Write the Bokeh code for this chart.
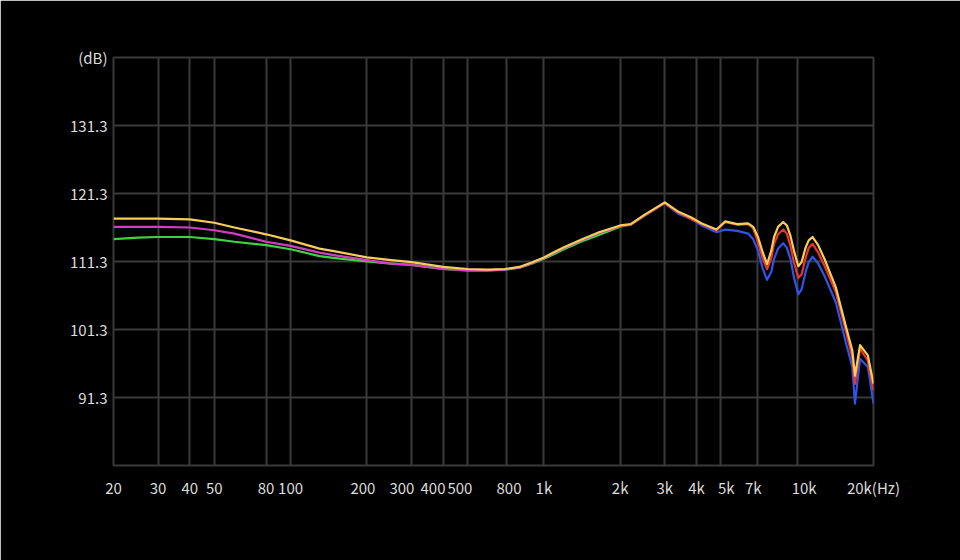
from bokeh.plotting import figure
from bokeh.models import FixedTicker, Range1d
from bokeh.embed import file_html
from bokeh.resources import INLINE

# ---- data ----
freqs = [20, 25, 30, 40, 50, 60, 80, 100, 130, 150,
         200, 250, 300, 400, 500, 600, 700, 800, 900, 1000,
         1100, 1200, 1400, 1650, 2000, 2200, 2500, 3000, 3400, 3800,
         4200, 4800, 5200, 5800, 6400, 6700, 7000, 7300, 7600, 7900,
         8100, 8400, 8800, 9100, 9400, 9700, 10100, 10400, 10800, 11100,
         11500, 12100, 12800, 14200, 15600, 16500, 16900, 17700, 19000, 20000]

yellow_db = [117.6, 117.6, 117.6, 117.5, 117.0, 116.3, 115.3, 114.4, 113.2, 112.8,
             111.9, 111.5, 111.2, 110.5, 110.2, 110.1, 110.2, 110.5, 111.2, 111.9,
             112.7, 113.4, 114.5, 115.6, 116.6, 116.8, 118.2, 120.0, 118.6, 117.8,
             116.9, 116.0, 117.2, 116.8, 116.9, 116.4, 114.9, 112.7, 110.9, 112.9,
             114.9, 116.4, 117.1, 116.6, 115.1, 112.9, 110.6, 111.2, 113.4, 114.4,
             114.9, 113.7, 111.7, 107.5, 101.6, 98.2, 94.5, 99.0, 97.5, 93.3]

pink_red_db = [116.4, 116.4, 116.4, 116.3, 115.9, 115.4, 114.2, 113.6, 112.6, 112.2,
               111.5, 111.0, 110.8, 110.2, 110.0, 110.0, 110.1, 110.4, 111.1, 111.8,
               112.6, 113.3, 114.4, 115.5, 116.5, 116.7, 118.1, 119.9, 118.5, 117.6,
               116.8, 115.9, 117.1, 116.7, 116.8, 116.2, 114.1, 111.8, 110.2, 111.8,
               113.9, 115.3, 116.0, 115.4, 113.6, 111.2, 108.9, 109.4, 111.9, 113.3,
               113.9, 112.6, 110.7, 106.8, 100.9, 97.2, 93.3, 98.5, 96.7, 92.3]

green_blue_db = [114.6, 114.8, 114.9, 114.9, 114.6, 114.2, 113.7, 113.1, 112.1, 111.8,
                 111.3, 111.0, 110.8, 110.2, 110.0, 110.0, 110.1, 110.4, 111.0, 111.7,
                 112.4, 113.1, 114.2, 115.2, 116.4, 116.7, 118.0, 119.9, 118.3, 117.6,
                 116.6, 115.6, 116.0, 115.8, 115.4, 114.6, 112.9, 110.3, 108.6, 109.8,
                 111.7, 113.2, 114.0, 113.3, 111.7, 109.0, 106.5, 107.2, 109.8, 111.2,
                 112.0, 111.0, 109.2, 105.3, 99.2, 95.8, 90.4, 97.0, 95.8, 90.4]

split_freq = 2000  # colour changes from magenta/green (low) to red/blue (high)

# vertical grid lines (as drawn in the reference)
x_grid = [20, 30, 40, 50, 80, 100, 200, 300, 400, 500, 710, 1000,
          2000, 3000, 4000, 5000, 7000, 10000, 20000]
# frequency-axis labels and where they sit in the reference
x_label_pos = [20, 30, 40, 50, 80, 100, 193, 275, 365, 466, 728, 1000,
               2000, 3000, 4000, 5250, 6710, 10650, 20000]
x_labels = ["20", "30", "40", "50", "80", "100", "200", "300", "400", "500", "800", "1k",
            "2k", "3k", "4k", "5k", "7k", "10k", "20k(Hz)"]
y_ticks = [81.3, 91.3, 101.3, 111.3, 121.3, 131.3, 141.3]
y_labels = ["", "91.3", "101.3", "111.3", "121.3", "131.3", "(dB)"]

# ---- styles ----
BG = "#000000"
GRID = "#3a3a3a"
TXT = "#dcdcdc"
FONT = "Noto Sans CJK SC"
C_YELLOW = "#f8cd58"
C_MAGENTA = "#d43cc6"
C_RED = "#e8372c"
C_GREEN = "#3fd43f"
C_BLUE = "#2f55e8"

p = figure(width=960, height=560, x_axis_type="log",
           x_range=Range1d(x_grid[0], x_grid[-1]),
           y_range=Range1d(y_ticks[0], y_ticks[-1]),
           output_backend="svg", toolbar_location=None,
           min_border_left=113, min_border_right=87,
           min_border_top=57, min_border_bottom=95)
p.background_fill_color = BG
p.border_fill_color = BG
p.outline_line_color = GRID
p.outline_line_width = 2

xt = FixedTicker(ticks=x_label_pos, minor_ticks=[])
xg = FixedTicker(ticks=x_grid, minor_ticks=[])
yt = FixedTicker(ticks=y_ticks, minor_ticks=[])
p.xaxis.ticker = xt
p.yaxis.ticker = yt
p.xgrid.ticker = xg
p.ygrid.ticker = yt
p.xaxis.major_label_overrides = {t: l for t, l in zip(x_label_pos, x_labels)}
p.yaxis.major_label_overrides = {t: l for t, l in zip(y_ticks, y_labels)}

for ax in (p.xaxis, p.yaxis):
    ax.axis_line_color = None
    ax.major_tick_line_color = None
    ax.minor_tick_line_color = None
    ax.major_tick_out = 0
    ax.major_tick_in = 0
    ax.major_label_text_color = TXT
    ax.major_label_text_font = FONT
    ax.major_label_text_font_size = "15px"
p.xaxis.major_label_standoff = 11
p.yaxis.major_label_standoff = 6

for g in (p.xgrid, p.ygrid):
    g.grid_line_color = GRID
    g.grid_line_width = 2

k = freqs.index(split_freq)
lw = 2.2
# green -> blue series
p.line(freqs[:k + 1], green_blue_db[:k + 1], line_color=C_GREEN, line_width=lw, line_join="round")
p.line(freqs[k:], green_blue_db[k:], line_color=C_BLUE, line_width=lw, line_join="round")
# magenta -> red series
p.line(freqs[:k + 1], pink_red_db[:k + 1], line_color=C_MAGENTA, line_width=lw, line_join="round")
p.line(freqs[k:], pink_red_db[k:], line_color=C_RED, line_width=lw, line_join="round")
# yellow series on top
p.line(freqs, yellow_db, line_color=C_YELLOW, line_width=lw, line_join="round")

open("out.html", "w").write(file_html(p, INLINE))
